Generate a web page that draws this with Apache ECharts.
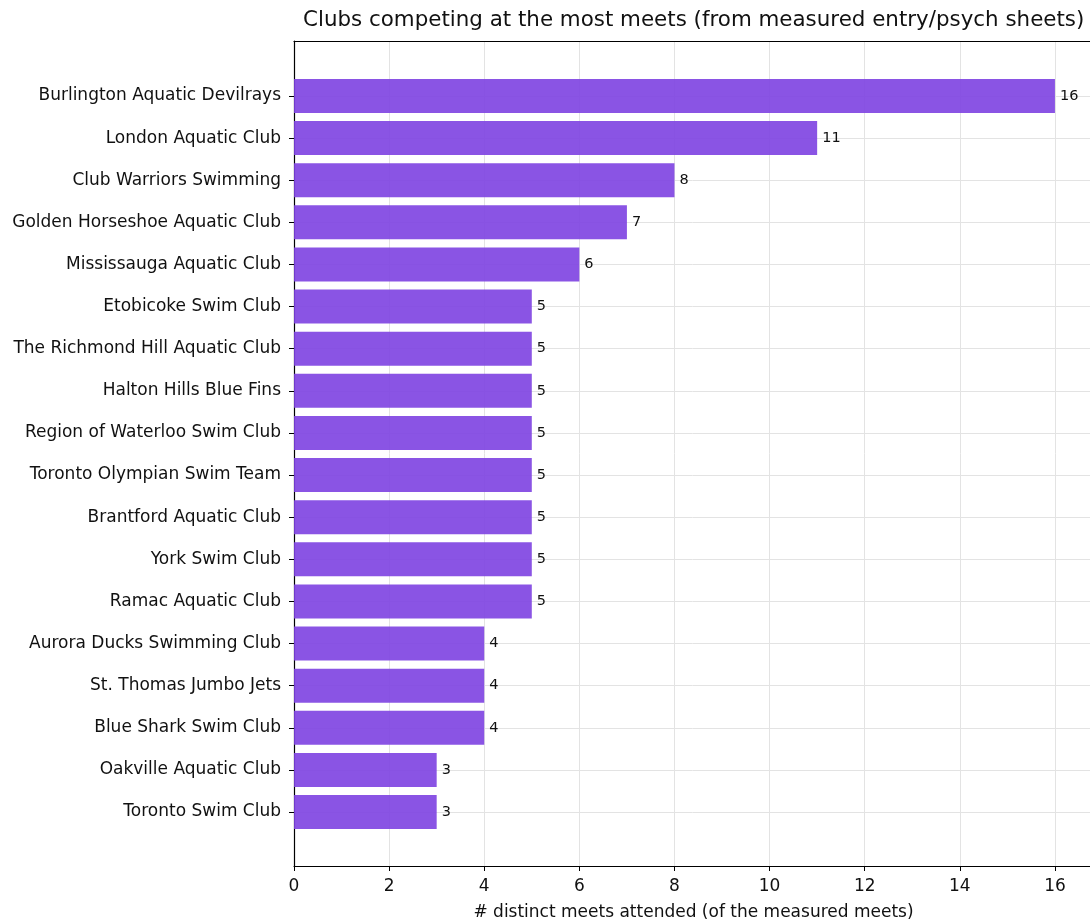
<!DOCTYPE html>
<html>
<head>
<meta charset="utf-8">
<script src="https://cdn.jsdelivr.net/npm/echarts@6/dist/echarts.min.js"></script>
<style>
  html, body { margin: 0; padding: 0; background: #fff; }
  #main { width: 1090px; height: 921px; }
</style>
</head>
<body>
<div id="main"></div>
<script>
const clubs = [
  'Burlington Aquatic Devilrays',
  'London Aquatic Club',
  'Club Warriors Swimming',
  'Golden Horseshoe Aquatic Club',
  'Mississauga Aquatic Club',
  'Etobicoke Swim Club',
  'The Richmond Hill Aquatic Club',
  'Halton Hills Blue Fins',
  'Region of Waterloo Swim Club',
  'Toronto Olympian Swim Team',
  'Brantford Aquatic Club',
  'York Swim Club',
  'Ramac Aquatic Club',
  'Aurora Ducks Swimming Club',
  'St. Thomas Jumbo Jets',
  'Blue Shark Swim Club',
  'Oakville Aquatic Club',
  'Toronto Swim Club',
];
const meets = [16, 11, 8, 7, 6, 5, 5, 5, 5, 5, 5, 5, 5, 4, 4, 4, 3, 3];
const xMax = 16.8;

const font = "'DejaVu Sans', sans-serif";
const chart = echarts.init(document.getElementById('main'));

const option = {
  animation: false,
  textStyle: { fontFamily: font },
  title: {
    text: 'Clubs competing at the most meets (from measured entry/psych sheets)',
    left: 303,
    top: 10,
    padding: 0,
    textStyle: { fontFamily: font, fontSize: 21.4, fontWeight: 'normal', color: '#111' },
  },
  grid: [
    // outer frame: spines, x axis, vertical grid lines
    { left: 294, top: 41, width: 799, height: 825, outerBoundsMode: 'none' },
    // inner area holding the bars
    { left: 294, top: 96, width: 799, height: 716, outerBoundsMode: 'none' },
  ],
  xAxis: [
    {
      gridIndex: 0,
      type: 'value',
      min: 0,
      max: xMax,
      interval: 2,
      name: '# distinct meets attended (of the measured meets)',
      nameLocation: 'middle',
      nameGap: 38,
      nameTextStyle: { fontFamily: font, fontSize: 17, color: '#111' },
      axisLine: { show: true, lineStyle: { color: '#000', width: 1.2 } },
      axisTick: { show: true, inside: false, length: 5, lineStyle: { color: '#000' } },
      axisLabel: { fontFamily: font, fontSize: 17, color: '#111', margin: 12, showMaxLabel: false },
      splitLine: { show: true, lineStyle: { color: '#e3e3e3', width: 1 } },
    },
    {
      gridIndex: 1,
      type: 'value',
      min: 0,
      max: xMax,
      show: false,
    },
    {
      // top spine
      gridIndex: 0,
      type: 'value',
      position: 'top',
      min: 0,
      max: xMax,
      axisLine: { show: true, lineStyle: { color: '#000', width: 1.2 } },
      axisTick: { show: false },
      axisLabel: { show: false },
      splitLine: { show: false },
    },
  ],
  yAxis: [
    {
      gridIndex: 0,
      type: 'value',
      min: 0,
      max: 1,
      axisLine: { show: true, lineStyle: { color: '#000', width: 1.2 } },
      axisTick: { show: false },
      axisLabel: { show: false },
      splitLine: { show: false },
    },
    {
      gridIndex: 1,
      type: 'category',
      inverse: true,
      boundaryGap: false,
      data: clubs,
      axisLine: { show: false },
      axisTick: { show: true, length: 5, lineStyle: { color: '#000', width: 1 } },
      axisLabel: { fontFamily: font, fontSize: 17, color: '#111', margin: 13 },
      splitLine: { show: true, lineStyle: { color: '#e3e3e3', width: 1 } },
    },
  ],
  series: [
    {
      type: 'bar',
      xAxisIndex: 1,
      yAxisIndex: 1,
      data: meets,
      barWidth: 34,
      clip: false,
      itemStyle: { color: 'rgba(125,65,225,0.9)' },
      label: {
        show: true,
        position: 'right',
        distance: 5,
        fontFamily: font,
        fontSize: 14.5,
        color: '#111',
      },
    },
  ],
};

chart.setOption(option);
</script>
</body>
</html>
